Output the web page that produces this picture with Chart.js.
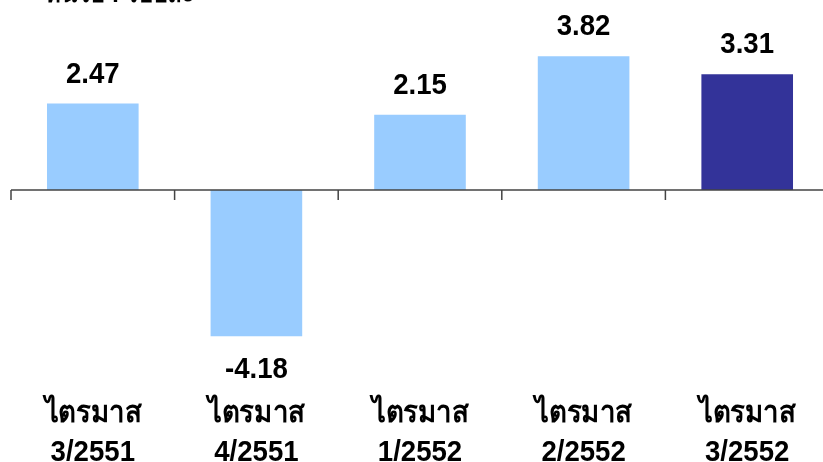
<!DOCTYPE html>
<html>
<head>
<meta charset="utf-8">
<script src="https://cdn.jsdelivr.net/npm/chart.js@4"></script>
<style>
  html, body { margin: 0; padding: 0; background: #fff; overflow: hidden; }
</style>
</head>
<body>
<canvas id="myChart" width="829" height="462"></canvas>
<script>
var quarters = ["ไตรมาส 3/2551", "ไตรมาส 4/2551", "ไตรมาส 1/2552", "ไตรมาส 2/2552", "ไตรมาส 3/2552"];
var growth = [2.47, -4.18, 2.15, 3.82, 3.31];
var barColors = ["#99CCFF", "#99CCFF", "#99CCFF", "#99CCFF", "#333399"];
var unitText = "หน่วย : ร้อยละ";

var fontFamily = "'Liberation Sans', Arial, sans-serif";
var squeeze = 0.92; // ตัวอักษรแคบแบบ Arial Narrow

function drawNarrow(ctx, text, x, y) {
  ctx.save();
  ctx.translate(x, y);
  ctx.scale(squeeze, 1);
  ctx.fillText(text, 0, 0);
  ctx.restore();
}

// เส้นแกนที่ 0 และขีดแบ่งหมวด
var zeroLinePlugin = {
  id: "zeroLine",
  afterDatasetsDraw: function (chart) {
    var ctx = chart.ctx;
    var y0 = chart.scales.y.getPixelForValue(0);
    ctx.save();
    ctx.strokeStyle = "#444";
    ctx.lineWidth = 1.5;
    ctx.beginPath();
    ctx.moveTo(chart.chartArea.left, y0);
    ctx.lineTo(chart.chartArea.right, y0);
    var step = (chart.chartArea.right - chart.chartArea.left) / quarters.length;
    for (var i = 0; i <= quarters.length; i++) {
      var px = chart.chartArea.left + i * step;
      ctx.moveTo(px, y0);
      ctx.lineTo(px, y0 + 10);
    }
    ctx.stroke();
    ctx.restore();
  }
};

// ป้ายค่า + ป้ายหมวดด้านล่าง
var labelPlugin = {
  id: "labels",
  afterDatasetsDraw: function (chart) {
    var ctx = chart.ctx;
    var meta = chart.getDatasetMeta(0);
    var xs = chart.scales.x;
    ctx.save();
    ctx.fillStyle = "#000";
    ctx.textAlign = "center";
    ctx.textBaseline = "alphabetic";
    ctx.font = "bold 30px " + fontFamily;
    meta.data.forEach(function (bar, i) {
      var v = growth[i];
      var ty = v >= 0 ? bar.y - 21 : bar.y + 42;
      drawNarrow(ctx, v.toFixed(2), bar.x, ty);
    });
    quarters.forEach(function (q, i) {
      var parts = q.split(" ");
      var cx = xs.getPixelForTick(i);
      drawNarrow(ctx, parts[0], cx, chart.height - 40);
      drawNarrow(ctx, parts[1], cx, chart.height - 1);
    });
    // หัวข้อหน่วยที่ถูกตัดด้านบน
    ctx.textAlign = "left";
    ctx.font = "bold 26px " + fontFamily;
    drawNarrow(ctx, unitText, 45, 2);
    ctx.restore();
  }
};

var ctx = document.getElementById("myChart").getContext("2d");
var myChart = new Chart(ctx, {
  type: "bar",
  data: {
    labels: quarters,
    datasets: [
      {
        data: growth,
        backgroundColor: barColors,
        borderWidth: 0,
        barPercentage: 0.56,
        categoryPercentage: 1
      }
    ]
  },
  options: {
    responsive: false,
    animation: false,
    layout: { padding: { left: 11, right: 0, top: 15, bottom: 97 } },
    plugins: {
      legend: { display: false },
      tooltip: { enabled: false }
    },
    scales: {
      x: {
        grid: { display: false, drawTicks: false },
        border: { display: false },
        ticks: { display: false }
      },
      y: {
        display: false,
        min: -5,
        max: 5
      }
    }
  },
  plugins: [zeroLinePlugin, labelPlugin]
});
</script>
</body>
</html>
